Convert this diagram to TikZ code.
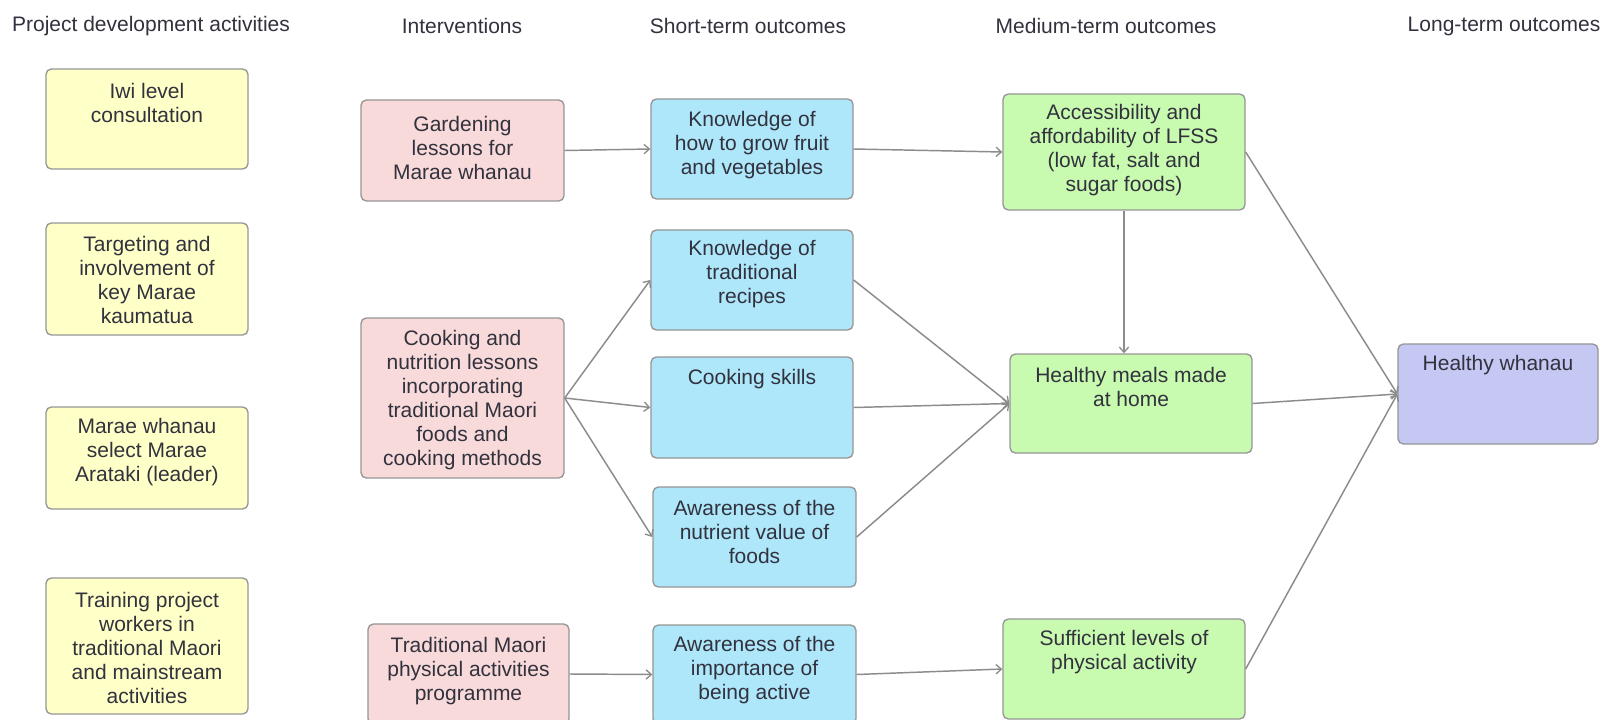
\documentclass[tikz,border=0pt]{standalone}
\usepackage{fontspec}
\setmainfont{Liberation Sans}
\usetikzlibrary{arrows.meta,fit}

\definecolor{ylw}{RGB}{255,255,200}
\definecolor{pnk}{RGB}{248,218,218}
\definecolor{blu}{RGB}{174,230,250}
\definecolor{grn}{RGB}{200,250,176}
\definecolor{prp}{RGB}{196,200,242}
\definecolor{boxline}{RGB}{150,150,150}
\definecolor{linkgray}{RGB}{140,140,140}
\definecolor{txt}{RGB}{50,50,62}

\begin{document}
\begin{tikzpicture}[x=0.75pt,y=-0.75pt,
  box/.style={draw=boxline, line width=1pt, rounded corners=4pt, inner sep=0pt},
  lbl/.style={font=\fontsize{15.75pt}{18pt}\selectfont, text=txt, align=center, inner sep=0pt},
  link/.style={draw=linkgray, line width=1.1pt, -{Straight Barb[length=4pt,width=7pt,line width=1pt]}}]

\useasboundingbox[fill=white] (0,0) rectangle (1605,720);

% column headings
\node[lbl] (hd1) at (151,26) {Project development activities};
\node[lbl] (hd2) at (462,26) {Interventions};
\node[lbl] (hd3) at (748,26) {Short-term outcomes};
\node[lbl] (hd4) at (1106,26) {Medium-term outcomes};
\node[lbl] (hd5) at (1504,26) {Long-term outcomes};

% project development activities
\node[box, fill=ylw, fit={(46,69) (248,169)}] (y1) {};
\node[box, fill=ylw, fit={(46,223) (248,335)}] (y2) {};
\node[box, fill=ylw, fit={(46,407) (248,509)}] (y3) {};
\node[box, fill=ylw, fit={(46,578) (248,714)}] (y4) {};
\node[lbl] (y1t) at (147,103) {Iwi level\\consultation};
\node[lbl] (y2t) at (147,279.5) {Targeting and\\involvement of\\key Marae\\kaumatua};
\node[lbl] (y3t) at (147,452) {Marae whanau\\select Marae\\Arataki (leader)};
\node[lbl] (y4t) at (147,648) {Training project\\workers in\\traditional Maori\\and mainstream\\activities};

% interventions
\node[box, fill=pnk, fit={(361,100) (564,201)}] (p1) {};
\node[box, fill=pnk, fit={(361,318) (564,478)}] (p2) {};
\node[box, fill=pnk, fit={(368,624) (569,724)}] (p3) {};
\node[lbl] (p1t) at (462.5,148) {Gardening\\lessons for\\Marae whanau};
\node[lbl] (p2t) at (462.5,400) {Cooking and\\nutrition lessons\\incorporating\\traditional Maori\\foods and\\cooking methods};
\node[lbl] (p3t) at (468.5,671) {Traditional Maori\\physical activities\\programme};

% short-term outcomes
\node[box, fill=blu, fit={(651,99) (853,199)}] (b1) {};
\node[box, fill=blu, fit={(651,230) (853,330)}] (b2) {};
\node[box, fill=blu, fit={(651,357) (853,458)}] (b3) {};
\node[box, fill=blu, fit={(653,487) (856,587)}] (b4) {};
\node[box, fill=blu, fit={(653,625) (856,724)}] (b5) {};
\node[lbl] (b1t) at (752,145) {Knowledge of\\how to grow fruit\\and vegetables};
\node[lbl] (b2t) at (752,274) {Knowledge of\\traditional\\recipes};
\node[lbl] (b3t) at (752,379) {Cooking skills};
\node[lbl] (b4t) at (754.5,532) {Awareness of the\\nutrient value of\\foods};
\node[lbl] (b5t) at (754.5,670) {Awareness of the\\importance of\\being active};

% medium-term outcomes
\node[box, fill=grn, fit={(1003,94) (1245,210)}] (g1) {};
\node[box, fill=grn, fit={(1010,354) (1252,453)}] (g2) {};
\node[box, fill=grn, fit={(1003,619) (1245,719)}] (g3) {};
\node[lbl] (g1t) at (1124,150) {Accessibility and\\affordability of LFSS\\(low fat, salt and\\sugar foods)};
\node[lbl] (g2t) at (1131,387) {Healthy meals made\\at home};
\node[lbl] (g3t) at (1124,652) {Sufficient levels of\\physical activity};

% long-term outcome
\node[box, fill=prp, fit={(1398,344) (1598,444)}] (lt) {};
\node[lbl] (ltt) at (1498,365) {Healthy whanau};

% connectors
\draw[link] (p1.east) -- (b1.west);
\draw[link] (b1.east) -- (g1.west);
\draw[link] (p2.east) -- (b2.west);
\draw[link] (p2.east) -- (b3.west);
\draw[link] (p2.east) -- (b4.west);
\draw[link] (b2.east) -- (g2.west);
\draw[link] (b3.east) -- (g2.west);
\draw[link] (b4.east) -- (g2.west);
\draw[link] (g1.south) -- (g1.south |- g2.north);
\draw[link] (p3.east) -- (b5.west);
\draw[link] (b5.east) -- (g3.west);
\draw[link] (g1.east) -- (lt.west);
\draw[link] (g2.east) -- (lt.west);
\draw[link] (g3.east) -- (lt.west);
\end{tikzpicture}
\end{document}
